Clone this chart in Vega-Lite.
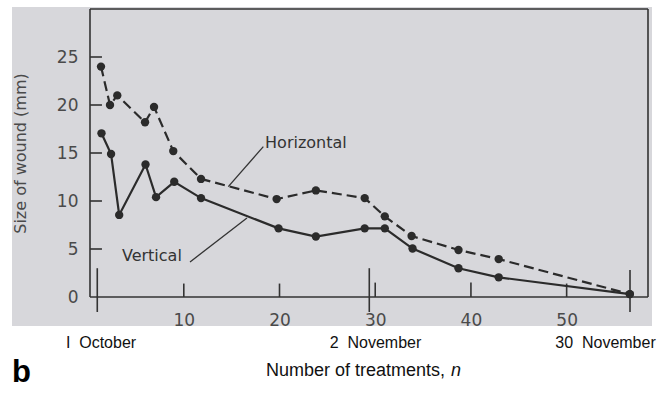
{
  "$schema": "https://vega.github.io/schema/vega-lite/v6.json",
  "width": 558,
  "height": 288,
  "autosize": {"type": "none"},
  "padding": {"left": 90, "top": 9, "right": 14, "bottom": 96},
  "background": "white",
  "config": {
    "view": {"stroke": "#333333", "strokeWidth": 1.5},
    "font": "DejaVu Sans"
  },
  "datasets": {
    "bg": [{"x1": -7.95, "x2": 58.92, "y1": -3.02, "y2": 30.2}],
    "frame": [
      {"x1": 0.2, "x2": 58.5, "y1": 30, "y2": 30},
      {"x1": 58.5, "x2": 58.5, "y1": 0, "y2": 30},
      {"x1": 0.2, "x2": 0.2, "y1": 0, "y2": 30},
      {"x1": 0.2, "x2": 58.5, "y1": 0, "y2": 0},
      {"x1": 10, "x2": 10, "y1": 0, "y2": 1.4},
      {"x1": 20, "x2": 20, "y1": 0, "y2": 1.4},
      {"x1": 30, "x2": 30, "y1": 0, "y2": 1.5},
      {"x1": 40, "x2": 40, "y1": 0, "y2": 1.5},
      {"x1": 50, "x2": 50, "y1": 0, "y2": 1.4},
      {"x1": 0.2, "x2": 1.45, "y1": 5, "y2": 5},
      {"x1": 0.2, "x2": 1.45, "y1": 10, "y2": 10},
      {"x1": 0.2, "x2": 1.45, "y1": 15, "y2": 15},
      {"x1": 0.2, "x2": 1.45, "y1": 20, "y2": 20},
      {"x1": 0.2, "x2": 1.45, "y1": 25, "y2": 25},
      {"x1": 0.96, "x2": 0.96, "y1": 3.0, "y2": -1.56},
      {"x1": 29.38, "x2": 29.38, "y1": 3.0, "y2": -1.56},
      {"x1": 56.62, "x2": 56.62, "y1": 2.8, "y2": -1.56}
    ],
    "series": [
      {"series": "Horizontal", "n": 1.35, "size": 24.0},
      {"series": "Horizontal", "n": 2.29, "size": 20.0},
      {"series": "Horizontal", "n": 3.05, "size": 21.0},
      {"series": "Horizontal", "n": 5.95, "size": 18.2},
      {"series": "Horizontal", "n": 6.89, "size": 19.8},
      {"series": "Horizontal", "n": 8.9, "size": 15.2},
      {"series": "Horizontal", "n": 11.8, "size": 12.3},
      {"series": "Horizontal", "n": 19.7, "size": 10.2},
      {"series": "Horizontal", "n": 23.8, "size": 11.1},
      {"series": "Horizontal", "n": 28.9, "size": 10.3},
      {"series": "Horizontal", "n": 31.0, "size": 8.4},
      {"series": "Horizontal", "n": 33.8, "size": 6.35},
      {"series": "Horizontal", "n": 38.7, "size": 4.9},
      {"series": "Horizontal", "n": 42.9, "size": 3.95},
      {"series": "Horizontal", "n": 56.6, "size": 0.3},
      {"series": "Vertical", "n": 1.4, "size": 17.05},
      {"series": "Vertical", "n": 2.4, "size": 14.9},
      {"series": "Vertical", "n": 3.25, "size": 8.55},
      {"series": "Vertical", "n": 6.0, "size": 13.8},
      {"series": "Vertical", "n": 7.1, "size": 10.4},
      {"series": "Vertical", "n": 9.0, "size": 12.0},
      {"series": "Vertical", "n": 11.8, "size": 10.3},
      {"series": "Vertical", "n": 19.9, "size": 7.15},
      {"series": "Vertical", "n": 23.8, "size": 6.3},
      {"series": "Vertical", "n": 28.9, "size": 7.15},
      {"series": "Vertical", "n": 31.0, "size": 7.15},
      {"series": "Vertical", "n": 33.9, "size": 5.05},
      {"series": "Vertical", "n": 38.7, "size": 3.0},
      {"series": "Vertical", "n": 42.9, "size": 2.05},
      {"series": "Vertical", "n": 56.6, "size": 0.3}
    ],
    "leaders": [
      {"x1": 14.65, "y1": 11.49, "x2": 18.31, "y2": 15.66},
      {"x1": 10.65, "y1": 3.65, "x2": 16.6, "y2": 8.23}
    ],
    "annot": [
      {"n": 18.49, "v": 16.04, "label": "Horizontal"},
      {"n": 3.54, "v": 4.3, "label": "Vertical"}
    ],
    "dates": [
      {"n": 1.35, "v": -4.79, "label": "I\u00a0 October"},
      {"n": 30.03, "v": -4.79, "label": "2\u00a0 November"},
      {"n": 54.06, "v": -4.79, "label": "30\u00a0 November"}
    ],
    "xtitle": [{"n": 37.29, "v": -7.75, "label": "Number of treatments,"}],
    "xtitleN": [{"n": 37.92, "v": -7.75, "label": "n"}],
    "panel": [{"n": -6.96, "v": -7.9, "label": "b"}]
  },
  "layer": [
    {
      "data": {"name": "bg"},
      "mark": {"type": "rect", "color": "#d7d7db", "clip": false},
      "encoding": {
        "x": {"field": "x1", "type": "quantitative", "scale": {"domain": [0.2, 58.5], "nice": false, "zero": false},
          "axis": {"values": [10, 20, 30, 40, 50], "title": null, "domain": false, "grid": false, "ticks": false, "labelPadding": 15, "labelFontSize": 17, "labelColor": "#4a4a4a", "labelFont": "DejaVu Sans", "zindex": 2,
            "encode": {"labels": {"update": {"dx": {"signal": "datum.value == 30 ? 10 : 0"}}}}}},
        "x2": {"field": "x2"},
        "y": {"field": "y1", "type": "quantitative", "scale": {"domain": [0, 30], "nice": false, "zero": false},
          "axis": {"values": [0, 5, 10, 15, 20, 25], "title": "Size of wound (mm)", "domain": false, "grid": false, "ticks": false, "labelPadding": 12, "labelFontSize": 17, "labelColor": "#4a4a4a", "labelFont": "DejaVu Sans", "zindex": 2,
            "titleFont": "DejaVu Sans", "titleFontSize": 16, "titleFontWeight": "normal", "titleColor": "#4a4a4a", "titleX": -70, "titleY": 144, "titleAngle": -90, "titleAlign": "center", "titleBaseline": "middle"}},
        "y2": {"field": "y2"}
      }
    },
    {
      "data": {"name": "frame"},
      "mark": {"type": "rule", "color": "#333333", "strokeWidth": 1.6, "clip": false},
      "encoding": {
        "x": {"field": "x1", "type": "quantitative"},
        "x2": {"field": "x2"},
        "y": {"field": "y1", "type": "quantitative"},
        "y2": {"field": "y2"}
      }
    },
    {
      "data": {"name": "leaders"},
      "mark": {"type": "rule", "color": "#333333", "strokeWidth": 1.3, "clip": false},
      "encoding": {
        "x": {"field": "x1", "type": "quantitative"},
        "y": {"field": "y1", "type": "quantitative"},
        "x2": {"field": "x2"},
        "y2": {"field": "y2"}
      }
    },
    {
      "data": {"name": "series"},
      "transform": [{"filter": "datum.series == 'Horizontal'"}],
      "mark": {"type": "line", "color": "#2b2b2b", "strokeWidth": 2.2, "strokeDash": [10, 5], "clip": false},
      "encoding": {
        "x": {"field": "n", "type": "quantitative"},
        "y": {"field": "size", "type": "quantitative"}
      }
    },
    {
      "data": {"name": "series"},
      "transform": [{"filter": "datum.series == 'Vertical'"}],
      "mark": {"type": "line", "color": "#2b2b2b", "strokeWidth": 2.2, "clip": false},
      "encoding": {
        "x": {"field": "n", "type": "quantitative"},
        "y": {"field": "size", "type": "quantitative"}
      }
    },
    {
      "data": {"name": "series"},
      "mark": {"type": "circle", "color": "#2b2b2b", "opacity": 1, "size": 70, "clip": false},
      "encoding": {
        "x": {"field": "n", "type": "quantitative"},
        "y": {"field": "size", "type": "quantitative"}
      }
    },
    {
      "data": {"name": "annot"},
      "mark": {"type": "text", "align": "left", "baseline": "middle", "font": "DejaVu Sans", "fontSize": 16, "color": "#333333", "clip": false},
      "encoding": {
        "x": {"field": "n", "type": "quantitative"},
        "y": {"field": "v", "type": "quantitative"},
        "text": {"field": "label"}
      }
    },
    {
      "data": {"name": "dates"},
      "mark": {"type": "text", "align": "center", "baseline": "middle", "font": "Liberation Sans", "fontSize": 16, "color": "#111111", "clip": false},
      "encoding": {
        "x": {"field": "n", "type": "quantitative"},
        "y": {"field": "v", "type": "quantitative"},
        "text": {"field": "label"}
      }
    },
    {
      "data": {"name": "xtitle"},
      "mark": {"type": "text", "align": "right", "baseline": "middle", "font": "Liberation Sans", "fontSize": 18, "color": "#111111", "clip": false},
      "encoding": {
        "x": {"field": "n", "type": "quantitative"},
        "y": {"field": "v", "type": "quantitative"},
        "text": {"field": "label"}
      }
    },
    {
      "data": {"name": "xtitleN"},
      "mark": {"type": "text", "align": "left", "baseline": "middle", "font": "Liberation Sans", "fontSize": 18, "fontStyle": "italic", "color": "#111111", "clip": false},
      "encoding": {
        "x": {"field": "n", "type": "quantitative"},
        "y": {"field": "v", "type": "quantitative"},
        "text": {"field": "label"}
      }
    },
    {
      "data": {"name": "panel"},
      "mark": {"type": "text", "align": "center", "baseline": "middle", "font": "Liberation Sans", "fontSize": 31, "fontWeight": "bold", "color": "#000000", "clip": false},
      "encoding": {
        "x": {"field": "n", "type": "quantitative"},
        "y": {"field": "v", "type": "quantitative"},
        "text": {"field": "label"}
      }
    }
  ]
}
